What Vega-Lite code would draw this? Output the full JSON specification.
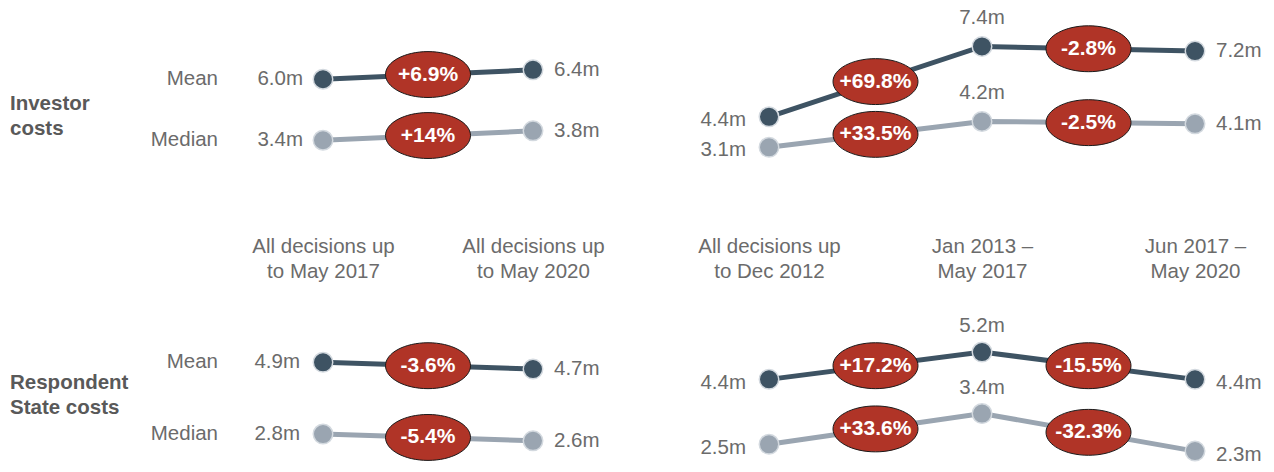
{
"$schema": "https://vega.github.io/schema/vega-lite/v6.json",
"padding": {"left": 10, "top": 0, "right": 0, "bottom": 0},
"autosize": {"type": "pad"},
"background": "white",
"bounds": "flush",
"columns": 2,
"spacing": {"row": 70, "column": 77.75},
"resolve": {"scale": {"x": "independent", "y": "independent"}},
"datasets": {
 "pts": [
  {"cost": "Investor costs", "view": "cumulative", "stat": "Mean", "period": "All decisions up to May 2017", "value": 6.0, "label": "6.0m"},
  {"cost": "Investor costs", "view": "cumulative", "stat": "Mean", "period": "All decisions up to May 2020", "value": 6.4, "label": "6.4m"},
  {"cost": "Investor costs", "view": "cumulative", "stat": "Median", "period": "All decisions up to May 2017", "value": 3.4, "label": "3.4m"},
  {"cost": "Investor costs", "view": "cumulative", "stat": "Median", "period": "All decisions up to May 2020", "value": 3.8, "label": "3.8m"},
  {"cost": "Investor costs", "view": "by period", "stat": "Mean", "period": "All decisions up to Dec 2012", "value": 4.4, "label": "4.4m"},
  {"cost": "Investor costs", "view": "by period", "stat": "Mean", "period": "Jan 2013 – May 2017", "value": 7.4, "label": "7.4m"},
  {"cost": "Investor costs", "view": "by period", "stat": "Mean", "period": "Jun 2017 – May 2020", "value": 7.2, "label": "7.2m"},
  {"cost": "Investor costs", "view": "by period", "stat": "Median", "period": "All decisions up to Dec 2012", "value": 3.1, "label": "3.1m"},
  {"cost": "Investor costs", "view": "by period", "stat": "Median", "period": "Jan 2013 – May 2017", "value": 4.2, "label": "4.2m"},
  {"cost": "Investor costs", "view": "by period", "stat": "Median", "period": "Jun 2017 – May 2020", "value": 4.1, "label": "4.1m"},
  {"cost": "Respondent State costs", "view": "cumulative", "stat": "Mean", "period": "All decisions up to May 2017", "value": 4.9, "label": "4.9m"},
  {"cost": "Respondent State costs", "view": "cumulative", "stat": "Mean", "period": "All decisions up to May 2020", "value": 4.7, "label": "4.7m"},
  {"cost": "Respondent State costs", "view": "cumulative", "stat": "Median", "period": "All decisions up to May 2017", "value": 2.8, "label": "2.8m"},
  {"cost": "Respondent State costs", "view": "cumulative", "stat": "Median", "period": "All decisions up to May 2020", "value": 2.6, "label": "2.6m"},
  {"cost": "Respondent State costs", "view": "by period", "stat": "Mean", "period": "All decisions up to Dec 2012", "value": 4.4, "label": "4.4m"},
  {"cost": "Respondent State costs", "view": "by period", "stat": "Mean", "period": "Jan 2013 – May 2017", "value": 5.2, "label": "5.2m"},
  {"cost": "Respondent State costs", "view": "by period", "stat": "Mean", "period": "Jun 2017 – May 2020", "value": 4.4, "label": "4.4m"},
  {"cost": "Respondent State costs", "view": "by period", "stat": "Median", "period": "All decisions up to Dec 2012", "value": 2.5, "label": "2.5m"},
  {"cost": "Respondent State costs", "view": "by period", "stat": "Median", "period": "Jan 2013 – May 2017", "value": 3.4, "label": "3.4m"},
  {"cost": "Respondent State costs", "view": "by period", "stat": "Median", "period": "Jun 2017 – May 2020", "value": 2.3, "label": "2.3m"}
 ],
 "chg": [
  {"cost": "Investor costs", "view": "cumulative", "stat": "Mean", "period": "Change 1", "change": "+6.9%", "from": 6.0, "to": 6.4},
  {"cost": "Investor costs", "view": "cumulative", "stat": "Median", "period": "Change 1", "change": "+14%", "from": 3.4, "to": 3.8},
  {"cost": "Investor costs", "view": "by period", "stat": "Mean", "period": "Change 1", "change": "+69.8%", "from": 4.4, "to": 7.4},
  {"cost": "Investor costs", "view": "by period", "stat": "Mean", "period": "Change 2", "change": "-2.8%", "from": 7.4, "to": 7.2},
  {"cost": "Investor costs", "view": "by period", "stat": "Median", "period": "Change 1", "change": "+33.5%", "from": 3.1, "to": 4.2},
  {"cost": "Investor costs", "view": "by period", "stat": "Median", "period": "Change 2", "change": "-2.5%", "from": 4.2, "to": 4.1},
  {"cost": "Respondent State costs", "view": "cumulative", "stat": "Mean", "period": "Change 1", "change": "-3.6%", "from": 4.9, "to": 4.7},
  {"cost": "Respondent State costs", "view": "cumulative", "stat": "Median", "period": "Change 1", "change": "-5.4%", "from": 2.8, "to": 2.6},
  {"cost": "Respondent State costs", "view": "by period", "stat": "Mean", "period": "Change 1", "change": "+17.2%", "from": 4.4, "to": 5.2},
  {"cost": "Respondent State costs", "view": "by period", "stat": "Mean", "period": "Change 2", "change": "-15.5%", "from": 5.2, "to": 4.4},
  {"cost": "Respondent State costs", "view": "by period", "stat": "Median", "period": "Change 1", "change": "+33.6%", "from": 2.5, "to": 3.4},
  {"cost": "Respondent State costs", "view": "by period", "stat": "Median", "period": "Change 2", "change": "-32.3%", "from": 3.4, "to": 2.3}
 ]
},
"concat": [
 {
  "width": 420, "height": 220,
  "encoding": {
   "x": {"field": "period", "type": "ordinal",
    "scale": {"type": "point", "domain": ["All decisions up to May 2017", "Change 1", "All decisions up to May 2020"], "padding": 1, "align": 0.5},
    "axis": {"values": ["All decisions up to May 2017", "All decisions up to May 2020"], "title": null, "domain": false, "ticks": false, "labelAngle": 0, "labelBaseline": "top", "labelPadding": 16, "labelFontSize": 20.5, "labelLineHeight": 25, "labelColor": "#6b6b6b", "labelLimit": 0,
     "labelExpr": "indexof(datum.label,' to ')>0 ? [substring(datum.label,0,indexof(datum.label,' to ')), substring(datum.label,indexof(datum.label,' to ')+1)] : [substring(datum.label,0,indexof(datum.label,' – ')+2), substring(datum.label,indexof(datum.label,' – ')+3)]"}},
   "y": {"field": "value", "type": "quantitative", "scale": {"domain": [0, 9.378], "nice": false, "zero": false}, "axis": null}
  },
  "layer": [
   {"data": {"name": "pts"}, "transform": [{"filter": "datum.cost==='Investor costs' && datum.view==='cumulative'"}],
    "mark": {"type": "line", "strokeWidth": 5},
    "encoding": {"color": {"field": "stat", "type": "nominal", "scale": {"domain": ["Mean", "Median"], "range": ["#3e5363", "#9aa5b1"]}, "legend": null}}},
   {"data": {"name": "chg"}, "transform": [{"filter": "datum.cost==='Investor costs' && datum.view==='cumulative'"}, {"fold": ["from", "to"], "as": ["end", "value"]}],
    "mark": {"type": "point", "shape": "M-1,0A1,0.54,0,1,1,1,0A1,0.54,0,1,1,-1,0Z", "size": 7225, "filled": true, "fill": "#b03427", "stroke": "#1a1a1a", "strokeWidth": 1, "opacity": 1},
    "encoding": {"y": {"aggregate": "mean", "field": "value", "type": "quantitative"}, "detail": {"field": "stat"}}},
   {"data": {"name": "chg"}, "transform": [{"filter": "datum.cost==='Investor costs' && datum.view==='cumulative'"}, {"fold": ["from", "to"], "as": ["end", "value"]}],
    "mark": {"type": "text", "fontSize": 21, "fontWeight": "bold", "color": "white", "align": "center", "baseline": "middle"},
    "encoding": {"y": {"aggregate": "mean", "field": "value", "type": "quantitative"}, "text": {"field": "change"}, "detail": {"field": "stat"}}},
   {"data": {"name": "pts"}, "transform": [{"filter": "datum.cost==='Investor costs' && datum.view==='cumulative'"}],
    "mark": {"type": "circle", "size": 380, "opacity": 1, "stroke": "#d3d9df", "strokeWidth": 1.5},
    "encoding": {"color": {"field": "stat", "type": "nominal", "legend": null}}},
   {"data": {"name": "pts"}, "transform": [{"filter": "datum.cost==='Investor costs' && datum.view==='cumulative' && datum.period==='All decisions up to May 2017'"}],
    "mark": {"type": "text", "align": "right", "baseline": "middle", "dx": -20, "fontSize": 20.5, "color": "#6b6b6b"},
    "encoding": {"text": {"field": "label"}}},
   {"data": {"name": "pts"}, "transform": [{"filter": "datum.cost==='Investor costs' && datum.view==='cumulative' && datum.period==='All decisions up to May 2020'"}],
    "mark": {"type": "text", "align": "left", "baseline": "middle", "dx": 21, "fontSize": 20.5, "color": "#6b6b6b"},
    "encoding": {"text": {"field": "label"}}},
   {"data": {"name": "pts"}, "transform": [{"filter": "datum.cost==='Investor costs' && datum.view==='cumulative' && datum.period==='All decisions up to May 2017'"}],
    "mark": {"type": "text", "align": "right", "baseline": "middle", "dx": -105, "fontSize": 20.5, "color": "#6b6b6b"},
    "encoding": {"text": {"field": "stat"}}},
   {"data": {"name": "pts"}, "transform": [{"filter": "datum.cost==='Investor costs' && datum.view==='cumulative' && datum.period==='All decisions up to May 2017'"}],
    "mark": {"type": "text", "text": ["Investor", "costs"], "align": "left", "baseline": "middle", "dx": -313, "dy": -6, "fontSize": 20.5, "fontWeight": "bold", "lineHeight": 25, "color": "#595959"},
    "encoding": {"y": {"aggregate": "mean", "field": "value", "type": "quantitative"}}}
  ]
 },
 {
  "width": 532.5, "height": 220,
  "encoding": {
   "x": {"field": "period", "type": "ordinal",
    "scale": {"type": "point", "domain": ["All decisions up to Dec 2012", "Change 1", "Jan 2013 – May 2017", "Change 2", "Jun 2017 – May 2020"], "padding": 0.5, "align": 0.5},
    "axis": {"values": ["All decisions up to Dec 2012", "Jan 2013 – May 2017", "Jun 2017 – May 2020"], "title": null, "domain": false, "ticks": false, "labelAngle": 0, "labelBaseline": "top", "labelPadding": 16, "labelFontSize": 20.5, "labelLineHeight": 25, "labelColor": "#6b6b6b", "labelLimit": 0,
     "labelExpr": "indexof(datum.label,' to ')>0 ? [substring(datum.label,0,indexof(datum.label,' to ')), substring(datum.label,indexof(datum.label,' to ')+1)] : [substring(datum.label,0,indexof(datum.label,' – ')+2), substring(datum.label,indexof(datum.label,' – ')+3)]"}},
   "y": {"field": "value", "type": "quantitative", "scale": {"domain": [0, 9.378], "nice": false, "zero": false}, "axis": null}
  },
  "layer": [
   {"data": {"name": "pts"}, "transform": [{"filter": "datum.cost==='Investor costs' && datum.view==='by period'"}],
    "mark": {"type": "line", "strokeWidth": 5},
    "encoding": {"color": {"field": "stat", "type": "nominal", "scale": {"domain": ["Mean", "Median"], "range": ["#3e5363", "#9aa5b1"]}, "legend": null}}},
   {"data": {"name": "chg"}, "transform": [{"filter": "datum.cost==='Investor costs' && datum.view==='by period'"}, {"fold": ["from", "to"], "as": ["end", "value"]}],
    "mark": {"type": "point", "shape": "M-1,0A1,0.54,0,1,1,1,0A1,0.54,0,1,1,-1,0Z", "size": 7225, "filled": true, "fill": "#b03427", "stroke": "#1a1a1a", "strokeWidth": 1, "opacity": 1},
    "encoding": {"y": {"aggregate": "mean", "field": "value", "type": "quantitative"}, "detail": {"field": "stat"}}},
   {"data": {"name": "chg"}, "transform": [{"filter": "datum.cost==='Investor costs' && datum.view==='by period'"}, {"fold": ["from", "to"], "as": ["end", "value"]}],
    "mark": {"type": "text", "fontSize": 21, "fontWeight": "bold", "color": "white", "align": "center", "baseline": "middle"},
    "encoding": {"y": {"aggregate": "mean", "field": "value", "type": "quantitative"}, "text": {"field": "change"}, "detail": {"field": "stat"}}},
   {"data": {"name": "pts"}, "transform": [{"filter": "datum.cost==='Investor costs' && datum.view==='by period'"}],
    "mark": {"type": "circle", "size": 380, "opacity": 1, "stroke": "#d3d9df", "strokeWidth": 1.5},
    "encoding": {"color": {"field": "stat", "type": "nominal", "legend": null}}},
   {"data": {"name": "pts"}, "transform": [{"filter": "datum.cost==='Investor costs' && datum.view==='by period' && datum.period==='All decisions up to Dec 2012'"}],
    "mark": {"type": "text", "align": "right", "baseline": "middle", "dx": -23, "dy": 3, "fontSize": 20.5, "color": "#6b6b6b"},
    "encoding": {"text": {"field": "label"}}},
   {"data": {"name": "pts"}, "transform": [{"filter": "datum.cost==='Investor costs' && datum.view==='by period' && datum.period==='Jan 2013 – May 2017'"}],
    "mark": {"type": "text", "align": "center", "baseline": "middle", "dy": -28, "fontSize": 20.5, "color": "#6b6b6b"},
    "encoding": {"text": {"field": "label"}}},
   {"data": {"name": "pts"}, "transform": [{"filter": "datum.cost==='Investor costs' && datum.view==='by period' && datum.period==='Jun 2017 – May 2020'"}],
    "mark": {"type": "text", "align": "left", "baseline": "middle", "dx": 21, "fontSize": 20.5, "color": "#6b6b6b"},
    "encoding": {"text": {"field": "label"}}}
  ]
 },
 {
  "width": 420, "height": 182,
  "encoding": {
   "x": {"field": "period", "type": "ordinal",
    "scale": {"type": "point", "domain": ["All decisions up to May 2017", "Change 1", "All decisions up to May 2020"], "padding": 1, "align": 0.5},
    "axis": null},
   "y": {"field": "value", "type": "quantitative", "scale": {"domain": [1.689, 7.015], "nice": false, "zero": false}, "axis": null}
  },
  "layer": [
   {"data": {"name": "pts"}, "transform": [{"filter": "datum.cost==='Respondent State costs' && datum.view==='cumulative'"}],
    "mark": {"type": "line", "strokeWidth": 5},
    "encoding": {"color": {"field": "stat", "type": "nominal", "scale": {"domain": ["Mean", "Median"], "range": ["#3e5363", "#9aa5b1"]}, "legend": null}}},
   {"data": {"name": "chg"}, "transform": [{"filter": "datum.cost==='Respondent State costs' && datum.view==='cumulative'"}, {"fold": ["from", "to"], "as": ["end", "value"]}],
    "mark": {"type": "point", "shape": "M-1,0A1,0.54,0,1,1,1,0A1,0.54,0,1,1,-1,0Z", "size": 7225, "filled": true, "fill": "#b03427", "stroke": "#1a1a1a", "strokeWidth": 1, "opacity": 1},
    "encoding": {"y": {"aggregate": "mean", "field": "value", "type": "quantitative"}, "detail": {"field": "stat"}}},
   {"data": {"name": "chg"}, "transform": [{"filter": "datum.cost==='Respondent State costs' && datum.view==='cumulative'"}, {"fold": ["from", "to"], "as": ["end", "value"]}],
    "mark": {"type": "text", "fontSize": 21, "fontWeight": "bold", "color": "white", "align": "center", "baseline": "middle"},
    "encoding": {"y": {"aggregate": "mean", "field": "value", "type": "quantitative"}, "text": {"field": "change"}, "detail": {"field": "stat"}}},
   {"data": {"name": "pts"}, "transform": [{"filter": "datum.cost==='Respondent State costs' && datum.view==='cumulative'"}],
    "mark": {"type": "circle", "size": 380, "opacity": 1, "stroke": "#d3d9df", "strokeWidth": 1.5},
    "encoding": {"color": {"field": "stat", "type": "nominal", "legend": null}}},
   {"data": {"name": "pts"}, "transform": [{"filter": "datum.cost==='Respondent State costs' && datum.view==='cumulative' && datum.period==='All decisions up to May 2017'"}],
    "mark": {"type": "text", "align": "right", "baseline": "middle", "dx": -23, "fontSize": 20.5, "color": "#6b6b6b"},
    "encoding": {"text": {"field": "label"}}},
   {"data": {"name": "pts"}, "transform": [{"filter": "datum.cost==='Respondent State costs' && datum.view==='cumulative' && datum.period==='All decisions up to May 2020'"}],
    "mark": {"type": "text", "align": "left", "baseline": "middle", "dx": 21, "fontSize": 20.5, "color": "#6b6b6b"},
    "encoding": {"text": {"field": "label"}}},
   {"data": {"name": "pts"}, "transform": [{"filter": "datum.cost==='Respondent State costs' && datum.view==='cumulative' && datum.period==='All decisions up to May 2017'"}],
    "mark": {"type": "text", "align": "right", "baseline": "middle", "dx": -105, "fontSize": 20.5, "color": "#6b6b6b"},
    "encoding": {"text": {"field": "stat"}}},
   {"data": {"name": "pts"}, "transform": [{"filter": "datum.cost==='Respondent State costs' && datum.view==='cumulative' && datum.period==='All decisions up to May 2017'"}],
    "mark": {"type": "text", "text": ["Respondent", "State costs"], "align": "left", "baseline": "middle", "dx": -313, "dy": -15, "fontSize": 20.5, "fontWeight": "bold", "lineHeight": 25, "color": "#595959"},
    "encoding": {"y": {"aggregate": "mean", "field": "value", "type": "quantitative"}}}
  ]
 },
 {
  "width": 532.5, "height": 182,
  "encoding": {
   "x": {"field": "period", "type": "ordinal",
    "scale": {"type": "point", "domain": ["All decisions up to Dec 2012", "Change 1", "Jan 2013 – May 2017", "Change 2", "Jun 2017 – May 2020"], "padding": 0.5, "align": 0.5},
    "axis": null},
   "y": {"field": "value", "type": "quantitative", "scale": {"domain": [1.689, 7.015], "nice": false, "zero": false}, "axis": null}
  },
  "layer": [
   {"data": {"name": "pts"}, "transform": [{"filter": "datum.cost==='Respondent State costs' && datum.view==='by period'"}],
    "mark": {"type": "line", "strokeWidth": 5},
    "encoding": {"color": {"field": "stat", "type": "nominal", "scale": {"domain": ["Mean", "Median"], "range": ["#3e5363", "#9aa5b1"]}, "legend": null}}},
   {"data": {"name": "chg"}, "transform": [{"filter": "datum.cost==='Respondent State costs' && datum.view==='by period'"}, {"fold": ["from", "to"], "as": ["end", "value"]}],
    "mark": {"type": "point", "shape": "M-1,0A1,0.54,0,1,1,1,0A1,0.54,0,1,1,-1,0Z", "size": 7225, "filled": true, "fill": "#b03427", "stroke": "#1a1a1a", "strokeWidth": 1, "opacity": 1},
    "encoding": {"y": {"aggregate": "mean", "field": "value", "type": "quantitative"}, "detail": {"field": "stat"}}},
   {"data": {"name": "chg"}, "transform": [{"filter": "datum.cost==='Respondent State costs' && datum.view==='by period'"}, {"fold": ["from", "to"], "as": ["end", "value"]}],
    "mark": {"type": "text", "fontSize": 21, "fontWeight": "bold", "color": "white", "align": "center", "baseline": "middle"},
    "encoding": {"y": {"aggregate": "mean", "field": "value", "type": "quantitative"}, "text": {"field": "change"}, "detail": {"field": "stat"}}},
   {"data": {"name": "pts"}, "transform": [{"filter": "datum.cost==='Respondent State costs' && datum.view==='by period'"}],
    "mark": {"type": "circle", "size": 380, "opacity": 1, "stroke": "#d3d9df", "strokeWidth": 1.5},
    "encoding": {"color": {"field": "stat", "type": "nominal", "legend": null}}},
   {"data": {"name": "pts"}, "transform": [{"filter": "datum.cost==='Respondent State costs' && datum.view==='by period' && datum.period==='All decisions up to Dec 2012'"}],
    "mark": {"type": "text", "align": "right", "baseline": "middle", "dx": -23, "dy": 4, "fontSize": 20.5, "color": "#6b6b6b"},
    "encoding": {"text": {"field": "label"}}},
   {"data": {"name": "pts"}, "transform": [{"filter": "datum.cost==='Respondent State costs' && datum.view==='by period' && datum.period==='Jan 2013 – May 2017'"}],
    "mark": {"type": "text", "align": "center", "baseline": "middle", "dy": -26, "fontSize": 20.5, "color": "#6b6b6b"},
    "encoding": {"text": {"field": "label"}}},
   {"data": {"name": "pts"}, "transform": [{"filter": "datum.cost==='Respondent State costs' && datum.view==='by period' && datum.period==='Jun 2017 – May 2020'"}],
    "mark": {"type": "text", "align": "left", "baseline": "middle", "dx": 21, "dy": 4, "fontSize": 20.5, "color": "#6b6b6b"},
    "encoding": {"text": {"field": "label"}}}
  ]
 }
],
"config": {
 "view": {"stroke": null},
 "font": "Liberation Sans",
 "text": {"font": "Liberation Sans"},
 "axis": {"grid": false, "labelFont": "Liberation Sans"}
}
}
